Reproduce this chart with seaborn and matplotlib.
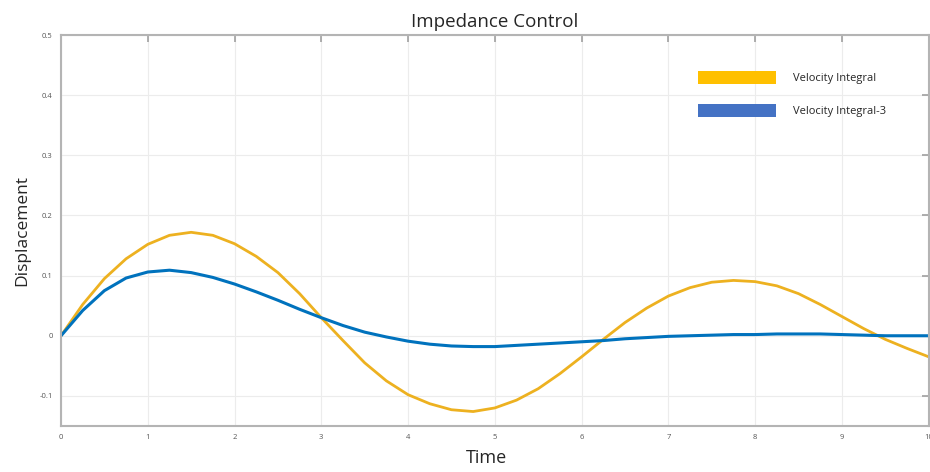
import numpy as np
import pandas as pd
import seaborn as sns
import matplotlib
matplotlib.use("Agg")
import matplotlib.pyplot as plt
from matplotlib.patches import Patch

# time samples and the two displacement curves
time = [0, 0.25, 0.5, 0.75, 1.0, 1.25, 1.5, 1.75, 2.0, 2.25, 2.5, 2.75, 3.0,
        3.25, 3.5, 3.75, 4.0, 4.25, 4.5, 4.75, 5.0, 5.25, 5.5, 5.75, 6.0,
        6.25, 6.5, 6.75, 7.0, 7.25, 7.5, 7.75, 8.0, 8.25, 8.5, 8.75, 9.0,
        9.25, 9.5, 9.75, 10.0]
vel_integral = [0, 0.052, 0.095, 0.128, 0.152, 0.167, 0.172, 0.167, 0.153,
                0.132, 0.105, 0.070, 0.030, -0.008, -0.045, -0.075, -0.098,
                -0.113, -0.123, -0.126, -0.120, -0.107, -0.088, -0.063,
                -0.035, -0.006, 0.022, 0.046, 0.066, 0.080, 0.089, 0.092,
                0.090, 0.083, 0.070, 0.052, 0.032, 0.012, -0.006, -0.021,
                -0.035]
vel_integral_3 = [0, 0.042, 0.075, 0.096, 0.106, 0.109, 0.105, 0.097, 0.086,
                  0.073, 0.059, 0.044, 0.030, 0.017, 0.006, -0.002, -0.009,
                  -0.014, -0.017, -0.018, -0.018, -0.016, -0.014, -0.012,
                  -0.010, -0.008, -0.005, -0.003, -0.001, 0.000, 0.001, 0.002,
                  0.002, 0.003, 0.003, 0.003, 0.002, 0.001, 0.000, 0.000, 0.000]
labels = ["Velocity Integral", "Velocity Integral-3"]

sns.set_style("whitegrid")
plt.rcParams['font.family'] = ['Open Sans', 'DejaVu Sans']

df = pd.DataFrame({"Time": time, "a": vel_integral, "b": vel_integral_3})

fig = plt.figure(figsize=(9.3, 4.72), dpi=100)
ax = fig.add_axes([0.0656, 0.0975, 0.933, 0.8283])

sns.lineplot(data=df, x="Time", y="a", color="#EDB120", linewidth=2, ax=ax)
sns.lineplot(data=df, x="Time", y="b", color="#0072BD", linewidth=2.2, ax=ax)

ax.set_xlim(0, 10)
ax.set_ylim(-0.15, 0.5)
ax.set_xticks(range(0, 11))
ax.set_yticks([-0.1, 0, 0.1, 0.2, 0.3, 0.4, 0.5])
ax.set_yticklabels(["-0.1", "0", "0.1", "0.2", "0.3", "0.4", "0.5"])
ax.grid(True, color="#ececec", linewidth=0.8)
for s in ax.spines.values():
    s.set_color("#b4b4b4")
    s.set_linewidth(1.5)
ax.tick_params(direction="in", length=5, width=1.2, color="#a0a0a0",
               labelsize=5.5, labelcolor="#555555", top=True, right=True,
               pad=6)

ax.set_title("Impedance Control", fontsize=13.5, pad=6)
ax.set_xlabel("Time", fontsize=13)
ax.set_ylabel("Displacement", fontsize=12.5)
ax.xaxis.set_label_coords(0.49, -0.06)
ax.yaxis.set_label_coords(-0.036, 0.5)

handles = [Patch(facecolor="#FFC000", edgecolor="none"),
           Patch(facecolor="#4472C4", edgecolor="none")]
fig.legend(handles, labels, loc="upper left", bbox_to_anchor=(0.745, 0.862),
           frameon=False, fontsize=8, handlelength=7, handleheight=1.5,
           labelspacing=1.75, handletextpad=1.5, borderpad=0)

fig.savefig("out.png", dpi=100)
